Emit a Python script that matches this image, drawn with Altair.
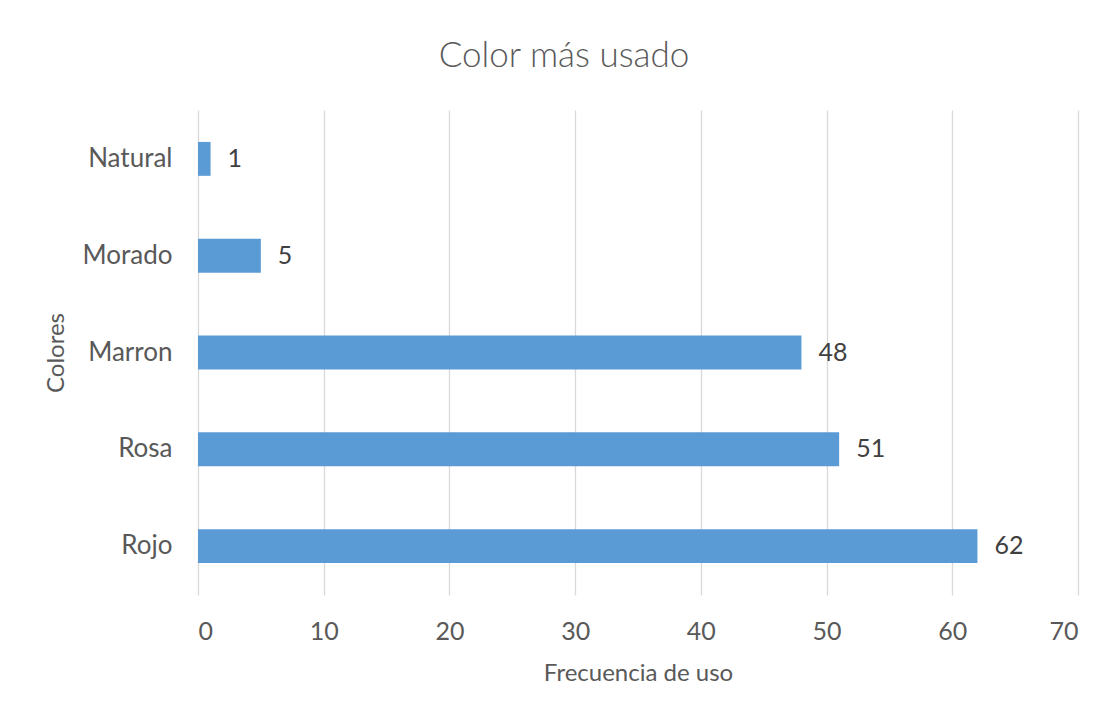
import altair as alt
import pandas as pd

colores = ["Natural", "Morado", "Marron", "Rosa", "Rojo"]
frecuencia = [1, 5, 48, 51, 62]

df = pd.DataFrame({"Colores": colores, "Frecuencia": frecuencia})

FONT = "Lato"

y_enc = alt.Y("Colores:N", sort=colores,
              scale=alt.Scale(paddingInner=0.65, paddingOuter=0.33),
              axis=alt.Axis(title="Colores", titleFontSize=24, titleFont=FONT,
                            titleFontWeight="normal", titleColor="#595959",
                            titlePadding=14,
                            labelFontSize=26, labelFont=FONT, labelColor="#595959",
                            labelPadding=26, ticks=False, domain=False, grid=False))

x_enc = alt.X("Frecuencia:Q", scale=alt.Scale(domain=[0, 70], nice=False),
              axis=alt.Axis(title="Frecuencia de uso", values=list(range(0, 71, 10)),
                            titleFontSize=24, titleFont=FONT, titleFontWeight="normal",
                            titleColor="#595959", titlePadding=17,
                            labelFontSize=25, labelFont=FONT, labelColor="#595959",
                            labelPadding=24, ticks=False, domain=False,
                            grid=True, gridColor="#D9D9D9", gridWidth=1.3))

bars = alt.Chart(df).mark_bar(color="#5B9BD5").encode(x=x_enc, y=y_enc)

labels = alt.Chart(df).mark_text(align="left", baseline="middle", dx=17,
                                 fontSize=25, font=FONT, color="#404040").encode(
    x="Frecuencia:Q", y=alt.Y("Colores:N", sort=colores), text="Frecuencia:Q")

chart = (bars + labels).properties(
    width=880, height=485,
    title=alt.TitleParams("Color más usado", fontSize=35, font=FONT,
                          fontWeight=300, color="#595959",
                          anchor="middle", frame="group", dx=-74, offset=36),
    autosize=alt.AutoSizeParams(type="none"),
    padding={"left": 198, "top": 110, "right": 31, "bottom": 114},
).configure(background="white").configure_view(stroke=None)

chart.save("out.html", embed_options={"renderer": "svg", "actions": False})
